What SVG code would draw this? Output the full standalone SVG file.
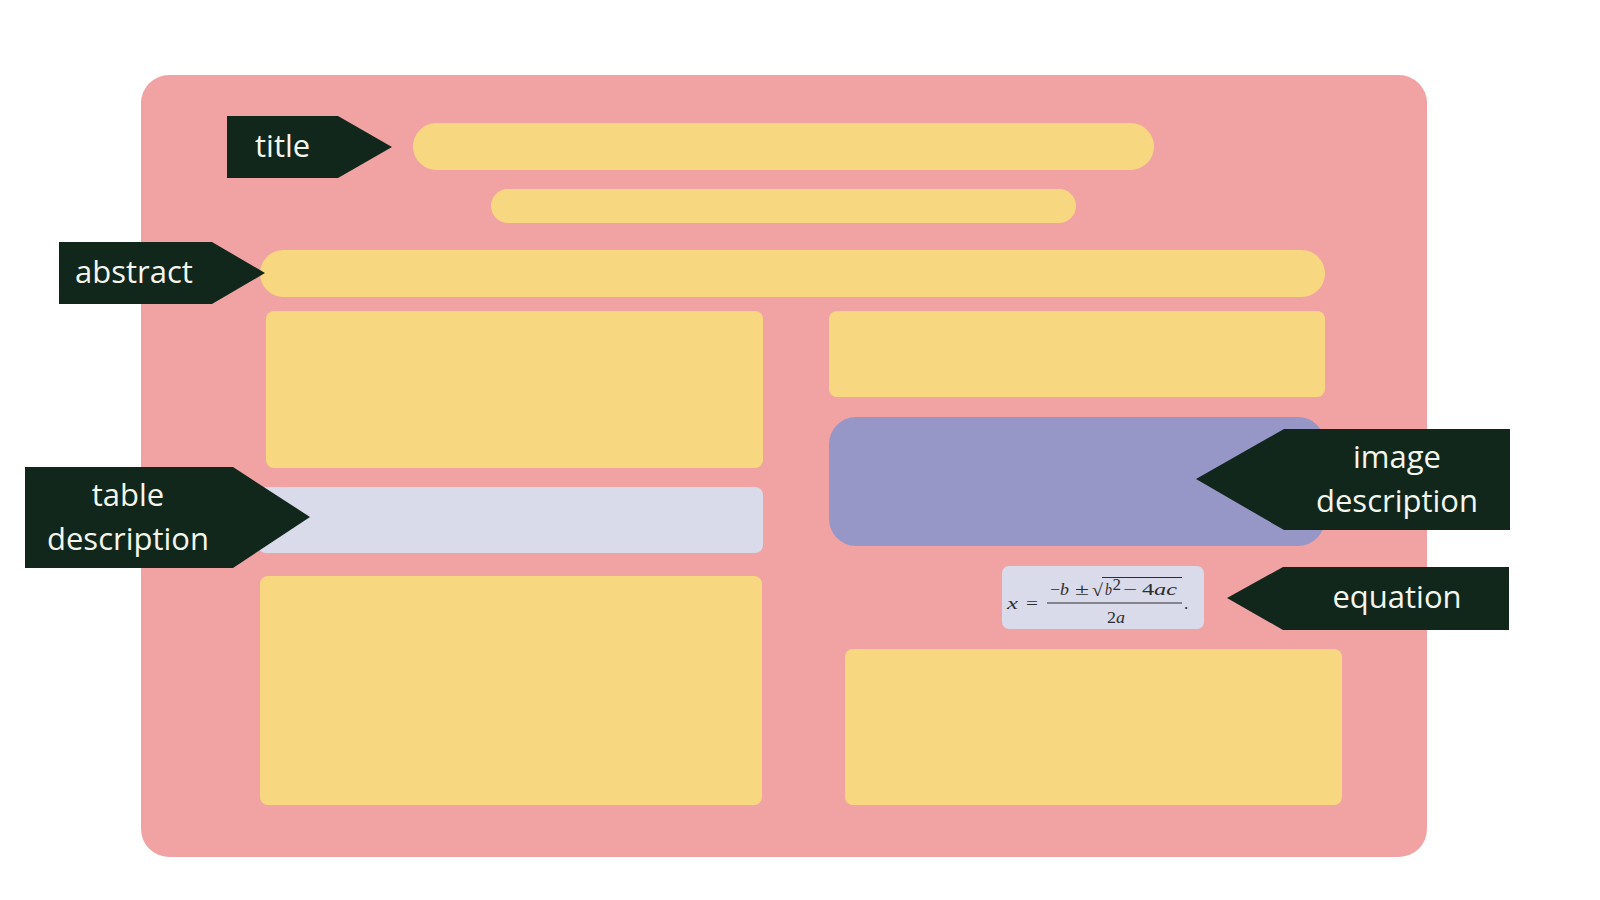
<svg xmlns="http://www.w3.org/2000/svg" width="1600" height="900" viewBox="0 0 1600 900">
<style>
.bg{fill:#F1A3A3}
.y{fill:#F8D781}
.lav{fill:#D9DAEA}
.blue{fill:#9797C7}
.tag{fill:#11271C}
.lbl{font-family:"Open Sans","Noto Sans",sans-serif;font-size:31px;fill:#F4F6EE}
.eq{font-family:"Liberation Serif","DejaVu Serif",serif;font-size:17px;fill:#2e2e2e}
.it{font-style:italic}
</style>
<rect width="1600" height="900" fill="#ffffff"/>
<g id="poster">
<rect class="bg" x="141" y="75" width="1286" height="782" rx="28"/>
</g>
<g id="title-bar"><rect class="y" x="413" y="123" width="741" height="47" rx="23.5"/></g>
<g id="subtitle-bar"><rect class="y" x="491" y="189" width="585" height="34" rx="17"/></g>
<g id="abstract-bar"><rect class="y" x="260" y="250" width="1065" height="47" rx="23.5"/></g>
<g id="block-top-left"><rect class="y" x="266" y="311" width="497" height="157" rx="8"/></g>
<g id="table-desc-box"><rect class="lav" x="258" y="487" width="505" height="66" rx="8"/></g>
<g id="block-bottom-left"><rect class="y" x="260" y="576" width="502" height="229" rx="8"/></g>
<g id="block-top-right"><rect class="y" x="829" y="311" width="496" height="86" rx="8"/></g>
<g id="image-box"><rect class="blue" x="829" y="417" width="496" height="129" rx="27"/></g>
<g id="block-bottom-right"><rect class="y" x="845" y="649" width="497" height="156" rx="8"/></g>
<g id="equation-box">
<rect class="lav" x="1002" y="566" width="202" height="63" rx="7"/>
<text class="eq it" x="1007" y="609" textLength="11" lengthAdjust="spacingAndGlyphs">x</text>
<text class="eq" x="1026" y="609" textLength="12" lengthAdjust="spacingAndGlyphs">=</text>
<text class="eq" x="1050" y="595" textLength="19" lengthAdjust="spacingAndGlyphs">−<tspan class="it">b</tspan></text>
<text class="eq" x="1075" y="595" textLength="14" lengthAdjust="spacingAndGlyphs">±</text>
<text class="eq" x="1092" y="596" font-size="20" textLength="11" lengthAdjust="spacingAndGlyphs">√</text>
<line x1="1102" y1="577.5" x2="1182" y2="577.5" stroke="#2e2e2e" stroke-width="1.1"/>
<text class="eq it" x="1105" y="595" textLength="7" lengthAdjust="spacingAndGlyphs">b</text>
<text class="eq" x="1112.5" y="589.5" font-size="8.5">2</text>
<text class="eq" x="1123" y="595" textLength="14" lengthAdjust="spacingAndGlyphs">−</text>
<text class="eq" x="1142" y="595" textLength="35" lengthAdjust="spacingAndGlyphs">4<tspan class="it">ac</tspan></text>
<line x1="1047" y1="603" x2="1182" y2="603" stroke="#2e2e2e" stroke-width="1.2"/>
<text class="eq" x="1107" y="623" textLength="18" lengthAdjust="spacingAndGlyphs">2<tspan class="it">a</tspan></text>
<text class="eq" x="1184" y="609" font-size="12">.</text>
</g>
<g id="label-title">
<polygon class="tag" points="227,116 338,116 392,147 338,178 227,178"/>
<text class="lbl" x="255" y="157">title</text>
</g>
<g id="label-abstract">
<polygon class="tag" points="59,242 212,242 265,273 212,304 59,304"/>
<text class="lbl" x="75" y="283">abstract</text>
</g>
<g id="label-table">
<polygon class="tag" points="25,467 233,467 310,517 233,568 25,568"/>
<text class="lbl" x="128" y="506" text-anchor="middle">table</text>
<text class="lbl" x="128" y="550" text-anchor="middle">description</text>
</g>
<g id="label-image">
<polygon class="tag" points="1284,429 1510,429 1510,530 1284,530 1196,479"/>
<text class="lbl" x="1397" y="468" text-anchor="middle">image</text>
<text class="lbl" x="1397" y="512" text-anchor="middle">description</text>
</g>
<g id="label-equation">
<polygon class="tag" points="1283,567 1509,567 1509,630 1283,630 1227,598"/>
<text class="lbl" x="1397" y="608" text-anchor="middle">equation</text>
</g>
<g id="connectors"></g>
</svg>
